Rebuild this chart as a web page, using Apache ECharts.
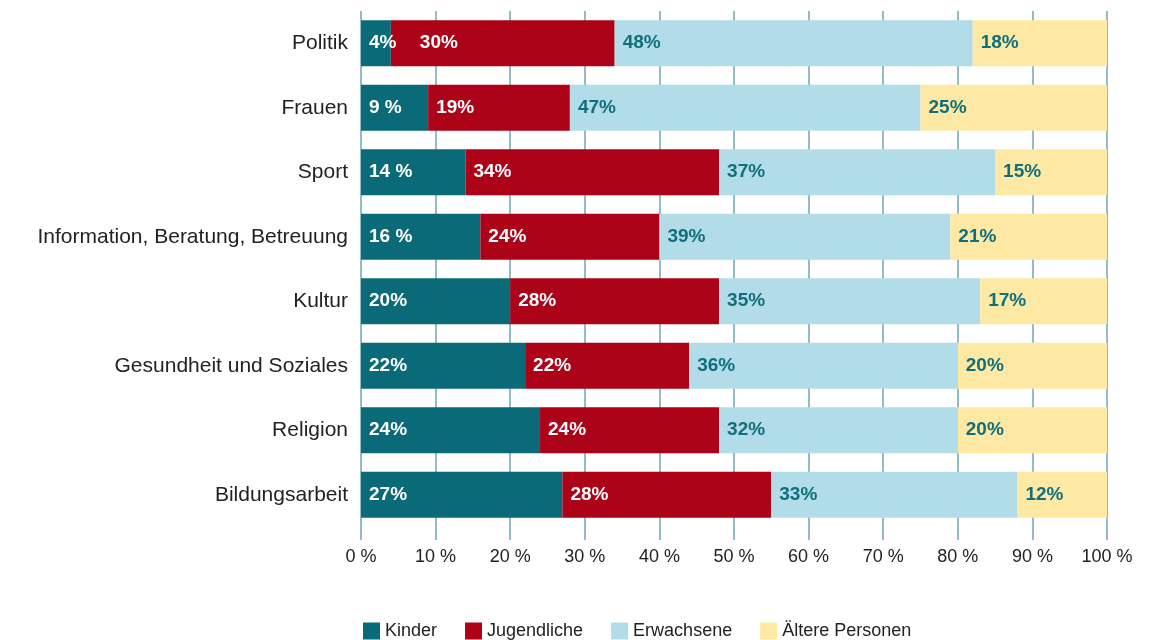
<!DOCTYPE html>
<html>
<head>
<meta charset="utf-8">
<script src="https://cdn.jsdelivr.net/npm/echarts@6/dist/echarts.min.js"></script>
<style>
html,body{margin:0;padding:0;background:#fff;}
#c{width:1165px;height:640px;}
</style>
</head>
<body>
<div id="c"></div>
<script>
const categories = ['Politik','Frauen','Sport','Information, Beratung, Betreuung','Kultur','Gesundheit und Soziales','Religion','Bildungsarbeit'];
const seriesNames = ['Kinder','Jugendliche','Erwachsene','Ältere Personen'];
const kinder = [4, 9, 14, 16, 20, 22, 24, 27];
const jugendliche = [30, 19, 34, 24, 28, 22, 24, 28];
const erwachsene = [48, 47, 37, 39, 35, 36, 32, 33];
const aeltere = [18, 25, 15, 21, 17, 20, 20, 12];
const kinderLabels = ['4%', '9 %', '14 %', '16 %', '20%', '22%', '24%', '27%'];
const xTicks = [0, 10, 20, 30, 40, 50, 60, 70, 80, 90, 100];

const colors = ['#0a6a78', '#ac0319', '#b2dde8', '#fde9a3'];
const labelColors = ['#ffffff', '#ffffff', '#106f7d', '#106f7d'];
const gridColor = '#6ea7b3';
const FONT = '"Liberation Sans", Arial, sans-serif';

const values = [kinder, jugendliche, erwachsene, aeltere];

const chart = echarts.init(document.getElementById('c'), null, {renderer: 'canvas'});
chart.setOption({
  animation: false,
  textStyle: {fontFamily: FONT},
  grid: {left: 361, right: 58, top: 11, bottom: 113, containLabel: false},
  legend: {
    data: seriesNames,
    left: 358, top: 617,
    itemWidth: 17, itemHeight: 17, itemGap: 28,
    icon: 'rect',
    textStyle: {fontFamily: FONT, fontSize: 18, color: '#222'}
  },
  xAxis: {
    type: 'value', min: 0, max: 100, interval: 10,
    axisLine: {show: false},
    axisTick: {show: true, length: 13, lineStyle: {color: gridColor, width: 1.5}},
    splitLine: {show: true, lineStyle: {color: gridColor, width: 1.5}},
    axisLabel: {
      margin: 21, fontSize: 18, color: '#222', fontFamily: FONT,
      formatter: v => xTicks.includes(v) ? v + ' %' : ''
    }
  },
  yAxis: {
    type: 'category', data: categories, inverse: true,
    axisLine: {show: false}, axisTick: {show: false},
    axisLabel: {fontSize: 21, color: '#222', margin: 13, fontFamily: FONT}
  },
  series: seriesNames.map((name, i) => ({
    name: name, type: 'bar', stack: 'total', barWidth: 46,
    itemStyle: {color: colors[i]},
    label: {
      show: true, position: 'insideLeft', distance: 8,
      color: labelColors[i], fontWeight: 'bold', fontSize: 19, fontFamily: FONT,
      formatter: p => i === 0 ? kinderLabels[p.dataIndex] : p.value + '%'
    },
    data: values[i].map((v, j) => (i === 1 && j === 0)
      ? {value: v, label: {distance: 29}}
      : v)
  }))
});
</script>
</body>
</html>
